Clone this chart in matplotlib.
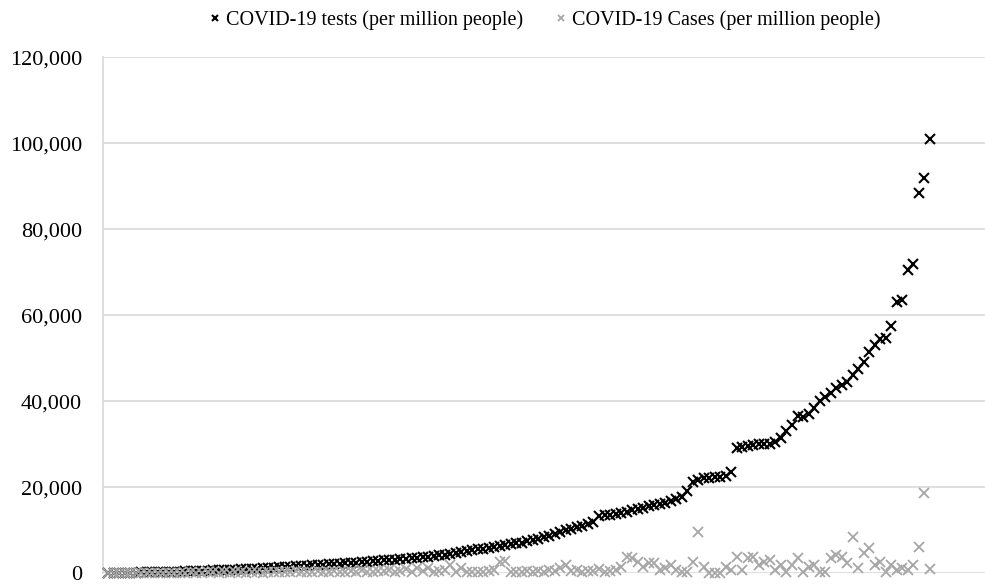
import matplotlib
matplotlib.use("Agg")
import matplotlib.pyplot as plt
from matplotlib.ticker import FuncFormatter

plt.rcParams['font.family'] = ['Liberation Serif', 'DejaVu Serif']

# one entry per country, sorted by tests per million
tests = [
    20, 40, 60, 80, 100, 120, 140, 170, 200, 230,
    260, 290, 320, 350, 390, 430, 470, 510, 550, 600,
    650, 700, 750, 800, 860, 920, 980, 1040, 1100, 1170,
    1240, 1310, 1380, 1450, 1520, 1600, 1680, 1760, 1840, 1920,
    2000, 2080, 2160, 2250, 2340, 2430, 2520, 2620, 2720, 2820,
    2920, 3020, 3120, 3230, 3340, 3450, 3560, 3680, 3800, 3920,
    4100, 4300, 4500, 4700, 4900, 5100, 5300, 5500, 5700, 5900,
    6100, 6300, 6500, 6700, 6900, 7100, 7400, 7700, 8000, 8300,
    8700, 9100, 9500, 9900, 10300, 10700, 11000, 11400, 11800, 13200,
    13400, 13600, 13800, 14000, 14300, 14600, 14900, 15200, 15500, 15800,
    16100, 16400, 16800, 17300, 17800, 19000, 21200, 21700, 22000, 22200,
    22400, 22400, 22600, 23500, 29000, 29300, 29500, 29800, 30000, 30100,
    30000, 30400, 31500, 33000, 34500, 36500, 36300, 37000, 38500, 40000,
    41000, 42000, 43000, 43800, 44500, 46000, 47500, 49000, 51500, 53000,
    54500, 54800, 57500, 63000, 63500, 70500, 72000, 88500, 92000, 101000,
]

cases = [
    20, 30, 10, 50, 40, 60, 30, 80, 50, 100,
    70, 40, 120, 90, 60, 150, 100, 80, 200, 130,
    60, 180, 90, 250, 150, 100, 300, 200, 120, 250,
    350, 180, 280, 150, 400, 220, 300, 180, 450, 260,
    350, 500, 200, 300, 420, 250, 600, 350, 280, 500,
    380, 700, 300, 450, 900, 350, 1200, 500, 1100, 300,
    400, 700, 1800, 300, 1200, 300, 200, 300, 200, 400,
    700, 2600, 2800, 300, 200, 300, 400, 300, 500, 300,
    700, 400, 1200, 1900, 400, 700, 300, 500, 400, 900,
    300, 500, 700, 1500, 3800, 3500, 2600, 1500, 2300, 2300,
    600, 1200, 1900, 800, 300, 300, 2600, 9600, 1500, 100,
    100, 100, 1500, 600, 3800, 700, 3500, 3800, 1900, 2600,
    3000, 700, 1900, 300, 1900, 3500, 300, 1500, 1900, 300,
    300, 3500, 4200, 3800, 2300, 8400, 1200, 4600, 5800, 1900,
    2600, 300, 1900, 700, 1200, 700, 1900, 6100, 18700, 850,
]

x = list(range(1, len(tests) + 1))

fig = plt.figure(figsize=(9.85, 5.84), dpi=100)
ax = fig.add_axes([0.1043, 0.0188, 0.8957, 0.8831])

ax.plot(x, tests, linestyle='none', marker='x', markersize=6.5, markeredgewidth=1.5,
        color='black', label='COVID-19 tests (per million people)', clip_on=False, zorder=3)
ax.plot(x, cases, linestyle='none', marker='x', markersize=6.5, markeredgewidth=1.3,
        color='#a6a6a6', label='COVID-19 Cases (per million people)', clip_on=False, zorder=4)

ax.set_xlim(0, 160)
ax.set_ylim(0, 120000)
ax.set_yticks(range(0, 120001, 20000))
ax.yaxis.set_major_formatter(FuncFormatter(lambda v, p: f'{int(v):,}'))
ax.set_xticks([])
ax.tick_params(axis='y', length=0, pad=15, labelsize=16)
ax.grid(axis='y', color='#d9d9d9', linewidth=1.2)
ax.set_axisbelow(True)

for side in ['top', 'right', 'bottom']:
    ax.spines[side].set_visible(False)
ax.spines['left'].set_color('#d9d9d9')
ax.spines['left'].set_linewidth(1.2)

leg = fig.legend(loc='center', bbox_to_anchor=(0.553, 0.966), ncol=2, frameon=False,
                 fontsize=14.5, handlelength=0.6, handletextpad=0.25, columnspacing=1.6,
                 markerscale=0.7)

fig.savefig('out.png', dpi=100)
